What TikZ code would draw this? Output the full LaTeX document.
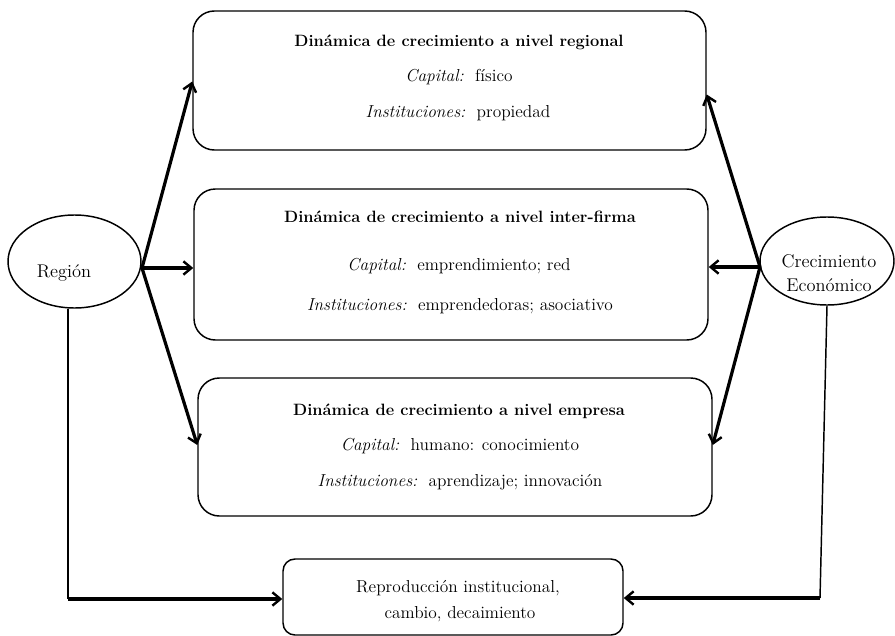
\documentclass[tikz,border=0pt]{standalone}
\usetikzlibrary{arrows.meta,calc,shapes.geometric}
\begin{document}
\begin{tikzpicture}[x=0.75pt,y=-0.75pt,
  box/.style={draw,line width=1.1pt,rounded corners=16pt,inner sep=0pt},
  oval/.style={draw,ellipse,line width=1.1pt,inner sep=0pt},
  txt/.style={font=\fontsize{13}{15}\selectfont,inner sep=0pt,anchor=base},
  otxt/.style={txt,font=\fontsize{13.8}{16}\selectfont},
  ttl/.style={txt,font=\fontsize{12.3}{14}\selectfont\bfseries},
  thk/.style={line width=2.4pt,-{Straight Barb[length=6pt,width=10pt,line width=1.8pt]}},
  thn/.style={line width=1.1pt}]
\useasboundingbox (0,0) rectangle (895,635);
% boxes
\node[box,minimum width=513*0.75pt,minimum height=139*0.75pt] (b1) at (449.5,80.5) {};
\node[box,minimum width=514*0.75pt,minimum height=151*0.75pt] (b2) at (451,264.5) {};
\node[box,minimum width=514*0.75pt,minimum height=138*0.75pt] (b3) at (455,447) {};
\node[box,rounded corners=9pt,minimum width=340*0.75pt,minimum height=76*0.75pt] (b4) at (453,597) {};
% ovals
\node[oval,minimum width=133*0.75pt,minimum height=93*0.75pt] (R) at (74.5,261.5) {};
\node[oval,minimum width=134*0.75pt,minimum height=88*0.75pt] (C) at (827,261) {};
% texts
\node[otxt] (r) at (64,277) {Región};
\node[otxt] (c1) at (829,267) {Crecimiento};
\node[otxt] (c2) at (829,291) {Económico};
\node[ttl] (t1) at (459,46) {Dinámica de crecimiento a nivel regional};
\node[txt] (k1) at (459,82) {\textit{Capital:}\ \ físico};
\node[txt] (i1) at (458,117) {\textit{Instituciones:}\ \ propiedad};
\node[ttl] (t2) at (460,222) {Dinámica de crecimiento a nivel inter-firma};
\node[txt] (k2) at (459,270) {\textit{Capital:}\ \ emprendimiento; red};
\node[txt] (i2) at (460,310) {\textit{Instituciones:}\ \ emprendedoras; asociativo};
\node[ttl] (t3) at (459,415) {Dinámica de crecimiento a nivel empresa};
\node[txt] (k3) at (460,450) {\textit{Capital:}\ \ humano: conocimiento};
\node[txt] (i3) at (460,486) {\textit{Instituciones:}\ \ aprendizaje; innovación};
\node[txt] (p1) at (458,592) {Reproducción institucional,};
\node[txt] (p2) at (460,618) {cambio, decaimiento};
% connectors
\coordinate (rs) at (142,268);
\coordinate (cs) at (760,267);
\draw[thk] (rs) -- ($(b1.west)+(0,1)$);
\draw[thk] (rs) -- ($(b2.west)+(0,3.5)$);
\draw[thk] (rs) -- ($(b3.west)+(0,-2)$);
\draw[thk] (cs) -- ($(b1.east)+(0,14)$);
\draw[thk] (cs) -- ($(b2.east)+(0,2.5)$);
\draw[thk] (cs) -- ($(b3.east)+(0,-2)$);
\coordinate (rc) at (68,599);
\coordinate (cc) at (820,598);
\draw[thn] (R.south -| rc) -- (rc);
\draw[thk] (rc) -- (b4.west |- rc);
\draw[thn] (C.south) -- (cc);
\draw[thk] (cc) -- (b4.east |- cc);
\end{tikzpicture}
\end{document}
